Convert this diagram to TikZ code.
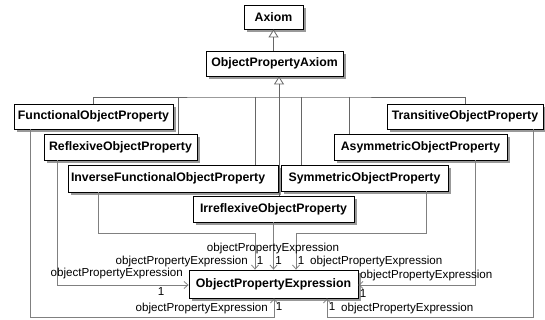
\documentclass[tikz,border=0pt]{standalone}
\usepackage{fontspec}
\setmainfont{Liberation Sans}
\usetikzlibrary{arrows.meta,shadows}
\begin{document}
\begin{tikzpicture}[x=1pt,y=-1pt,
  cls/.style={draw=black, line width=0.8pt, fill=white, inner sep=0pt,
    font=\fontsize{12.3}{14}\selectfont\bfseries,
    drop shadow={shadow xshift=3pt, shadow yshift=-3pt, fill=black!40, opacity=1}},
  gen/.style={draw=black!60, line width=0.8pt},
  genarrow/.style={gen, -{Triangle[open, length=8pt, width=10pt, fill=white]}},
  assoc/.style={draw=black!50, line width=0.8pt, -{Straight Barb[length=4pt, width=7pt]}},
  lbl/.style={inner sep=0pt, font=\fontsize{11.6}{13}\selectfont}
]
\useasboundingbox (0,0) rectangle (545,320);

% classes
\node[cls, minimum width=59pt, minimum height=24pt] (ax) at (273.5,17) {Axiom};
\node[cls, minimum width=137pt, minimum height=25pt] (opa) at (274.5,63.5) {ObjectPropertyAxiom};
\node[cls, minimum width=159pt, minimum height=25pt] (fun) at (93.5,116.5) {FunctionalObjectProperty};
\node[cls, minimum width=156pt, minimum height=25pt] (tra) at (465,116.5) {TransitiveObjectProperty};
\node[cls, minimum width=153pt, minimum height=26pt] (ref) at (120.5,147) {ReflexiveObjectProperty};
\node[cls, minimum width=173pt, minimum height=26pt] (asy) at (420.5,147) {AsymmetricObjectProperty};
\node[cls, minimum width=210pt, minimum height=27pt] (inv) at (173,178.5) {\makebox[204pt][l]{InverseFunctionalObjectProperty}};
\node[cls, minimum width=167pt, minimum height=26pt] (sym) at (364.5,178) {SymmetricObjectProperty};
\node[cls, minimum width=161pt, minimum height=26pt] (irr) at (273.5,209) {IrreflexiveObjectProperty};
\node[cls, minimum width=169pt, minimum height=28pt] (ope) at (273.5,284) {ObjectPropertyExpression};

% generalizations
\draw[genarrow] (opa.north -| ax.south) -- (ax.south);
\coordinate (stem) at (279,97);
\draw[genarrow] (irr.north -| stem) -- (opa.south -| stem);
\draw[gen] (fun.north) |- (stem) -| (tra.north);
\coordinate (b2) at (178,97); \draw[gen] (b2) -- (ref.north -| b2);
\coordinate (b3) at (255,97); \draw[gen] (b3) -- (inv.north -| b3);
\coordinate (b4) at (301,97); \draw[gen] (b4) -- (sym.north -| b4);
\coordinate (b5) at (349,97); \draw[gen] (b5) -- (asy.north -| b5);

% associations
\coordinate (f1) at (30,317); \coordinate (f2) at (274,317);
\draw[assoc] (fun.south -| f1) -- (f1) -- (f2) -- (ope.south -| f2);
\coordinate (r1) at (57,285);
\draw[assoc] (ref.south -| r1) |- (ope.west |- r1);
\coordinate (i1) at (98,233); \coordinate (i2) at (255,233);
\draw[assoc] (inv.south -| i1) -- (i1) -- (i2) -- (ope.north -| i2);
\draw[assoc] (irr.south) -- (ope.north);
\coordinate (s1) at (426,233); \coordinate (s2) at (296,233);
\draw[assoc] (sym.south -| s1) -- (s1) -- (s2) -- (ope.north -| s2);
\coordinate (a1) at (475,285);
\draw[assoc] (asy.south -| a1) |- (ope.east |- a1);
\coordinate (t1) at (533,317); \coordinate (t2) at (327,317);
\draw[assoc] (tra.south -| t1) -- (t1) -- (t2) -- (ope.south -| t2);

% labels
\node[lbl] (lirr) at (273,248) {objectPropertyExpression};
\node[lbl, anchor=east] (linv) at (248,261) {objectPropertyExpression};
\node[lbl] (minv) at (260,261) {1};
\node[lbl] (mirr) at (278.5,261) {1};
\node[lbl] (msym) at (301,261) {1};
\node[lbl, anchor=west] (lsym) at (310,261) {objectPropertyExpression};
\node[lbl, anchor=east] (lref) at (183,273) {objectPropertyExpression};
\node[lbl] (mref) at (161,292) {1};
\node[lbl, anchor=west] (lasy) at (360,275) {objectPropertyExpression};
\node[lbl] (masy) at (363,294) {1};
\node[lbl, anchor=east] (lfun) at (268,308) {objectPropertyExpression};
\node[lbl] (mfun) at (279,307) {1};
\node[lbl] (mtra) at (332,307) {1};
\node[lbl, anchor=west] (ltra) at (341,308) {objectPropertyExpression};
\end{tikzpicture}
\end{document}
